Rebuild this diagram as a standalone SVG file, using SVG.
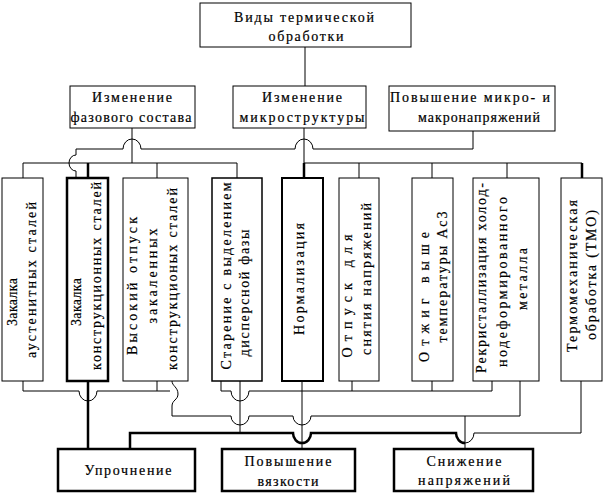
<svg xmlns="http://www.w3.org/2000/svg" width="604" height="496" viewBox="0 0 604 496">
<style>
.box{fill:#fff;stroke:#000;stroke-width:1}
.bk{stroke-width:2.5}
.bm{stroke-width:2}
.t{font-family:"Liberation Serif","Times New Roman",serif;font-size:14px;fill:#000;stroke:#000;stroke-width:0.2;text-anchor:middle}
.c{fill:none;stroke:#000;stroke-width:1}
.ck{fill:none;stroke:#000;stroke-width:2.5}
</style>
<rect width="604" height="496" fill="#fff"/>
<g id="connectors">
<path class="c" d="M305,47 V86"/>
<path class="c" d="M23,178 V163 H237 V178 M132,128 V163 M157,163 V178"/>
<path class="ck" d="M88,163 V178"/>
<path class="c" d="M304,128 V163 H582 M359,163 V178 M432,163 V178 M507,163 V178"/>
<path class="ck" d="M304,163 V178 M582,163 V178"/>
<path class="c" d="M473,131 V149 H313 A9,10 0 0 0 295,149 H141 A9,10 0 0 0 123,149 H76 V155 A7,8 0 0 0 76,171 V178"/>
<path class="c" d="M23,381 V391 H79 A9,10 0 0 0 97,391 H170 M157,381 V391"/>
<path class="ck" d="M88,381 V449"/>
<path class="c" d="M172,381 C172,386 178,387 178,394 C178,400 172,400 172,406 V416 H231 A9,9 0 0 0 249,416 H293 A9,9 0 0 0 311,416 H520 V381"/>
<path class="c" d="M221,381 V391 H231 A9,10 0 0 0 249,391 H492 M352,381 V391 M432,381 V391 M492,381 V391"/>
<path class="c" d="M240,381 V433 M302,381 V449 M465,416 V449"/>
<path class="ck" d="M130,449 V433 H293 A9,10 0 0 0 311,433 H456 A9,10 0 0 0 465,443"/>
<path class="c" d="M465,443 A9,10 0 0 0 474,433 H581 V381"/>
</g>
<g id="n-root">
<rect class="box" x="200" y="3" width="211" height="44"/>
<text class="t" x="304" y="22" textLength="140" lengthAdjust="spacing">Виды термической</text>
<text class="t" x="306" y="41" textLength="75" lengthAdjust="spacing">обработки</text>
</g>
<g id="n-phase">
<rect class="box" x="70" y="86" width="125" height="42"/>
<text class="t" x="132" y="102" textLength="80" lengthAdjust="spacing">Изменение</text>
<text class="t" x="131" y="122" textLength="121" lengthAdjust="spacing">фазового состава</text>
</g>
<g id="n-micro">
<rect class="box" x="233" y="86" width="133" height="42"/>
<text class="t" x="302" y="102" textLength="80" lengthAdjust="spacing">Изменение</text>
<text class="t" x="302" y="122" textLength="125" lengthAdjust="spacing">микроструктуры</text>
</g>
<g id="n-stress">
<rect class="box" x="389" y="86" width="166" height="45"/>
<text class="t" x="470" y="102" textLength="160" lengthAdjust="spacing">Повышение микро- и</text>
<text class="t" x="479" y="122" textLength="122" lengthAdjust="spacing">макронапряжений</text>
</g>
<g id="n1">
<rect class="box" x="2" y="178" width="41" height="203"/>
<text class="t" transform="translate(17,302) rotate(-90)" textLength="48" lengthAdjust="spacing">Закалка</text>
<text class="t" transform="translate(36,280) rotate(-90)" textLength="156" lengthAdjust="spacing">аустенитных сталей</text>
</g>
<g id="n2">
<rect class="box bk" x="67" y="178" width="41" height="203"/>
<text class="t" transform="translate(81,302) rotate(-90)" textLength="48" lengthAdjust="spacing">Закалка</text>
<text class="t" transform="translate(101,276) rotate(-90)" textLength="188" lengthAdjust="spacing">конструкционных сталей</text>
</g>
<g id="n3">
<rect class="box" x="123" y="178" width="65" height="203"/>
<text class="t" transform="translate(137,286) rotate(-90)" textLength="138" lengthAdjust="spacing">Высокий отпуск</text>
<text class="t" transform="translate(157,276) rotate(-90)" textLength="95" lengthAdjust="spacing">закаленных</text>
<text class="t" transform="translate(177,279) rotate(-90)" textLength="182" lengthAdjust="spacing">конструкционых сталей</text>
</g>
<g id="n4">
<rect class="box" x="212" y="178" width="50" height="203" style="stroke-width:1.5"/>
<text class="t" transform="translate(231,276) rotate(-90)" textLength="187" lengthAdjust="spacing">Старение с выделением</text>
<text class="t" transform="translate(249,293) rotate(-90)" textLength="127" lengthAdjust="spacing">дисперсной фазы</text>
</g>
<g id="n5">
<rect class="box bm" x="282" y="178" width="41" height="203"/>
<text class="t" transform="translate(304,279) rotate(-90)" textLength="112" lengthAdjust="spacing">Нормализация</text>
</g>
<g id="n6">
<rect class="box" x="339" y="178" width="40" height="203"/>
<text class="t" transform="translate(352,296) rotate(-90)" textLength="123" lengthAdjust="spacing">Отпуск для</text>
<text class="t" transform="translate(371,279) rotate(-90)" textLength="152" lengthAdjust="spacing">снятия напряжений</text>
</g>
<g id="n7">
<rect class="box" x="412" y="178" width="41" height="203"/>
<text class="t" transform="translate(429,297) rotate(-90)" textLength="130" lengthAdjust="spacing">Отжиг выше</text>
<text class="t" transform="translate(447,277) rotate(-90)" textLength="131" lengthAdjust="spacing">температуры Ас3</text>
</g>
<g id="n8">
<rect class="box" x="473" y="178" width="66" height="203"/>
<text class="t" transform="translate(486,278) rotate(-90)" textLength="190" lengthAdjust="spacing">Рекристаллизация холод-</text>
<text class="t" transform="translate(507,282) rotate(-90)" textLength="170" lengthAdjust="spacing">нодеформированного</text>
<text class="t" transform="translate(527,279) rotate(-90)" textLength="62" lengthAdjust="spacing">металла</text>
</g>
<g id="n9">
<rect class="box" x="561" y="178" width="41" height="203"/>
<text class="t" transform="translate(577,276) rotate(-90)" textLength="152" lengthAdjust="spacing">Термомеханическая</text>
<text class="t" transform="translate(596,275) rotate(-90)" textLength="130" lengthAdjust="spacing">обработка (ТМО)</text>
</g>
<g id="r1">
<rect class="box bk" x="58" y="449" width="137" height="42"/>
<text class="t" x="128" y="475" textLength="87" lengthAdjust="spacing">Упрочнение</text>
</g>
<g id="r2">
<rect class="box bk" x="222" y="449" width="133" height="42"/>
<text class="t" x="288" y="466" textLength="87" lengthAdjust="spacing">Повышение</text>
<text class="t" x="288" y="486" textLength="61" lengthAdjust="spacing">вязкости</text>
</g>
<g id="r3">
<rect class="box bk" x="394" y="449" width="139" height="42"/>
<text class="t" x="464" y="466" textLength="75" lengthAdjust="spacing">Снижение</text>
<text class="t" x="464" y="485" textLength="92" lengthAdjust="spacing">напряжений</text>
</g>
</svg>
